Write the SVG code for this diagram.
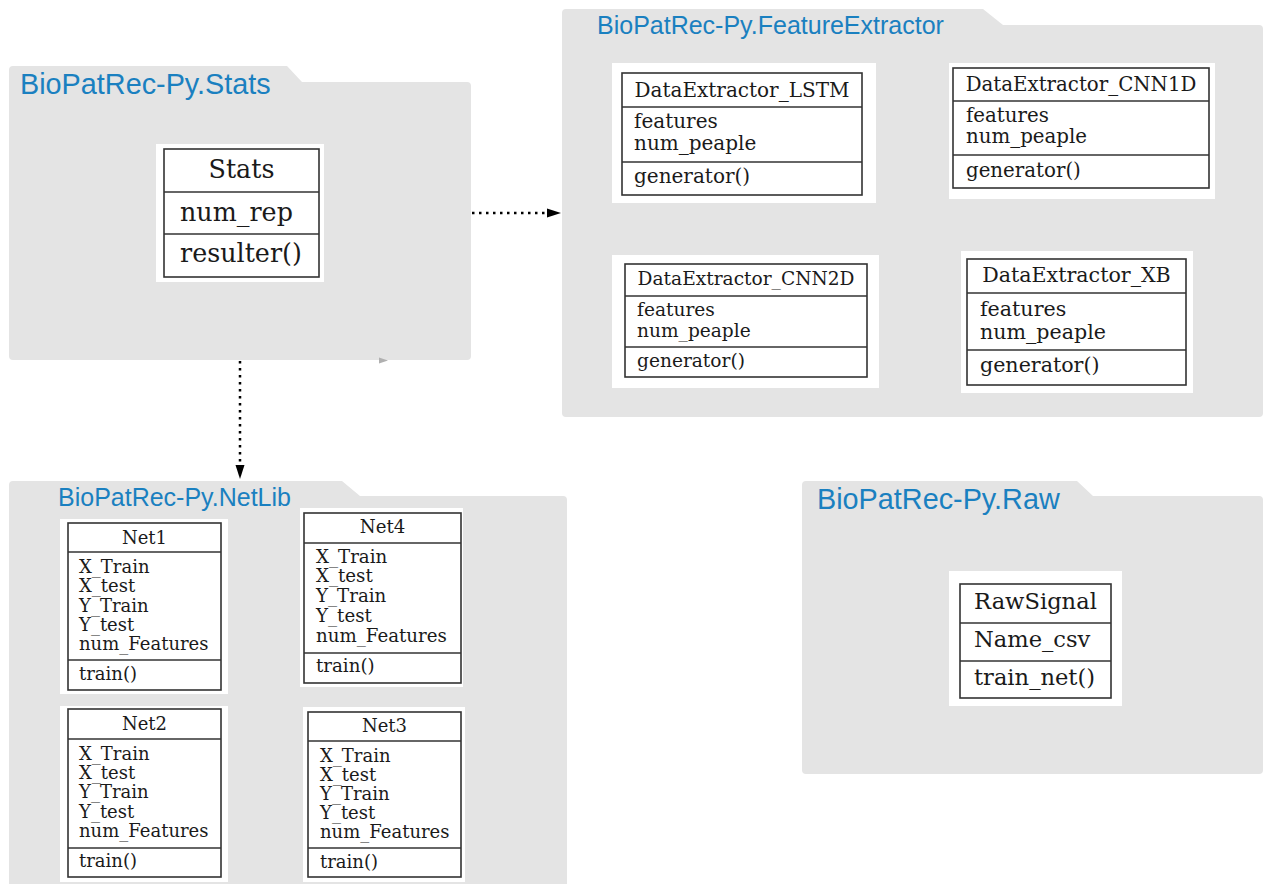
<svg xmlns="http://www.w3.org/2000/svg" width="1267" height="884" viewBox="0 0 1267 884">
<style>
.pkg{fill:#e4e4e4;stroke:none}
.ptitle{font-family:"Liberation Sans",Arial,sans-serif;fill:#1a80c0}
.bg{fill:#ffffff}
.tbl{fill:#ffffff;stroke:#333333;stroke-width:1.6}
.div{stroke:#333333;stroke-width:1.6}
.t{font-family:"DejaVu Serif",serif;fill:#1a1a1a}
.dot{fill:none;stroke:#000;stroke-width:2.5;stroke-dasharray:2.5 4.5}
</style>
<defs>
<marker id="arr" markerWidth="10" markerHeight="10" refX="0" refY="5" orient="auto" markerUnits="userSpaceOnUse">
<path d="M0,0.5 L14,5 L0,9.5 Z" fill="#000"/>
</marker>
</defs>

<g id="pkg-stats">
<path class="pkg" d="M9,70 Q9,66 13,66 L287,66 L302,82 L467,82 Q471,82 471,86 L471,356 Q471,360 467,360 L13,360 Q9,360 9,356 Z"/>
<text class="ptitle" x="20" y="94" font-size="28.8">BioPatRec-Py.Stats</text>
</g>

<g id="pkg-fe">
<path class="pkg" d="M562,13 Q562,9 566,9 L983,9 L1003,25 L1259,25 Q1263,25 1263,29 L1263,413 Q1263,417 1259,417 L566,417 Q562,417 562,413 Z"/>
<text class="ptitle" x="597" y="34" font-size="25">BioPatRec-Py.FeatureExtractor</text>
</g>

<g id="pkg-netlib">
<path class="pkg" d="M9,485 Q9,481 13,481 L342,481 L360,496 L563,496 Q567,496 567,500 L567,900 L9,900 Z"/>
<text class="ptitle" x="58" y="506" font-size="25">BioPatRec-Py.NetLib</text>
</g>

<g id="pkg-raw">
<path class="pkg" d="M802,485 Q802,481 806,481 L1077,481 L1093,496 L1259,496 Q1263,496 1263,500 L1263,770 Q1263,774 1259,774 L806,774 Q802,774 802,770 Z"/>
<text class="ptitle" x="817" y="509" font-size="28.8">BioPatRec-Py.Raw</text>
</g>

<g id="node-stats">
<rect class="bg" x="156" y="144" width="168" height="138"/>
<rect class="tbl" x="164" y="149" width="155" height="128" stroke-width="2.2"/>
<line class="div" x1="164" y1="192" x2="319" y2="192" stroke-width="2.2"/>
<line class="div" x1="164" y1="234" x2="319" y2="234" stroke-width="2.2"/>
<text class="t" x="241.5" y="178" font-size="25.4" text-anchor="middle">Stats</text>
<text class="t" x="180" y="221" font-size="25.4">num_rep</text>
<text class="t" x="180" y="262" font-size="25.4">resulter()</text>
</g>

<g id="node-lstm">
<rect class="bg" x="612" y="63" width="264" height="140"/>
<rect class="tbl" x="622" y="73" width="240" height="122"/>
<line class="div" x1="622" y1="107" x2="862" y2="107"/>
<line class="div" x1="622" y1="162" x2="862" y2="162"/>
<text class="t" x="742" y="97" font-size="20" text-anchor="middle">DataExtractor_LSTM</text>
<text class="t" x="634" y="128" font-size="20">features</text>
<text class="t" x="634" y="150" font-size="20">num_peaple</text>
<text class="t" x="634" y="183" font-size="20">generator()</text>
</g>

<g id="node-cnn1d">
<rect class="bg" x="949" y="63" width="266" height="136"/>
<rect class="tbl" x="953" y="68" width="256" height="120"/>
<line class="div" x1="953" y1="101" x2="1209" y2="101"/>
<line class="div" x1="953" y1="155" x2="1209" y2="155"/>
<text class="t" x="1081" y="91" font-size="19.8" text-anchor="middle">DataExtractor_CNN1D</text>
<text class="t" x="966" y="122" font-size="19.8">features</text>
<text class="t" x="966" y="143" font-size="19.8">num_peaple</text>
<text class="t" x="966" y="177" font-size="19.8">generator()</text>
</g>

<g id="node-cnn2d">
<rect class="bg" x="612" y="255" width="267" height="133"/>
<rect class="tbl" x="625" y="264" width="242" height="113"/>
<line class="div" x1="625" y1="296" x2="867" y2="296"/>
<line class="div" x1="625" y1="347" x2="867" y2="347"/>
<text class="t" x="746" y="285" font-size="18.6" text-anchor="middle">DataExtractor_CNN2D</text>
<text class="t" x="637" y="316" font-size="18.6">features</text>
<text class="t" x="637" y="337" font-size="18.6">num_peaple</text>
<text class="t" x="637" y="367" font-size="18.6">generator()</text>
</g>

<g id="node-xb">
<rect class="bg" x="961" y="251" width="232" height="142"/>
<rect class="tbl" x="967" y="259" width="219" height="126"/>
<line class="div" x1="967" y1="293" x2="1186" y2="293"/>
<line class="div" x1="967" y1="350" x2="1186" y2="350"/>
<text class="t" x="1076.5" y="282" font-size="20.6" text-anchor="middle">DataExtractor_XB</text>
<text class="t" x="980" y="316" font-size="20.6">features</text>
<text class="t" x="980" y="339" font-size="20.6">num_peaple</text>
<text class="t" x="980" y="372" font-size="20.6">generator()</text>
</g>

<g id="node-rawsignal">
<rect class="bg" x="949" y="571" width="173" height="135"/>
<rect class="tbl" x="960" y="584" width="151" height="114" stroke-width="2"/>
<line class="div" x1="960" y1="623" x2="1111" y2="623" stroke-width="2"/>
<line class="div" x1="960" y1="661" x2="1111" y2="661" stroke-width="2"/>
<text class="t" x="1035.5" y="609" font-size="22.6" text-anchor="middle">RawSignal</text>
<text class="t" x="974" y="647" font-size="22.6">Name_csv</text>
<text class="t" x="974" y="685" font-size="22.6">train_net()</text>
</g>

<g id="node-net1">
<rect class="bg" x="60" y="519" width="168" height="175"/>
<rect class="tbl" x="68" y="523" width="153" height="167"/>
<line class="div" x1="68" y1="552" x2="221" y2="552"/>
<line class="div" x1="68" y1="660" x2="221" y2="660"/>
<text class="t" x="144.5" y="544" font-size="18" text-anchor="middle">Net1</text>
<text class="t" x="79" y="573" font-size="18">X_Train</text>
<text class="t" x="79" y="592" font-size="18">X_test</text>
<text class="t" x="79" y="612" font-size="18">Y_Train</text>
<text class="t" x="79" y="631" font-size="18">Y_test</text>
<text class="t" x="79" y="650" font-size="18">num_Features</text>
<text class="t" x="79" y="680" font-size="18">train()</text>
</g>

<g id="node-net2">
<rect class="bg" x="60" y="706" width="168" height="176"/>
<rect class="tbl" x="68" y="709" width="153" height="168"/>
<line class="div" x1="68" y1="739" x2="221" y2="739"/>
<line class="div" x1="68" y1="848" x2="221" y2="848"/>
<text class="t" x="144.5" y="730" font-size="18" text-anchor="middle">Net2</text>
<text class="t" x="79" y="760" font-size="18">X_Train</text>
<text class="t" x="79" y="779" font-size="18">X_test</text>
<text class="t" x="79" y="798" font-size="18">Y_Train</text>
<text class="t" x="79" y="818" font-size="18">Y_test</text>
<text class="t" x="79" y="837" font-size="18">num_Features</text>
<text class="t" x="79" y="867" font-size="18">train()</text>
</g>

<g id="node-net4">
<rect class="bg" x="300" y="508" width="163" height="179"/>
<rect class="tbl" x="304" y="513" width="157" height="170"/>
<line class="div" x1="304" y1="543" x2="461" y2="543"/>
<line class="div" x1="304" y1="653" x2="461" y2="653"/>
<text class="t" x="382.5" y="533" font-size="18.2" text-anchor="middle">Net4</text>
<text class="t" x="316" y="563" font-size="18.2">X_Train</text>
<text class="t" x="316" y="582" font-size="18.2">X_test</text>
<text class="t" x="316" y="602" font-size="18.2">Y_Train</text>
<text class="t" x="316" y="622" font-size="18.2">Y_test</text>
<text class="t" x="316" y="642" font-size="18.2">num_Features</text>
<text class="t" x="316" y="672" font-size="18.2">train()</text>
</g>

<g id="node-net3">
<rect class="bg" x="303" y="707" width="162" height="175"/>
<rect class="tbl" x="308" y="712" width="153" height="165"/>
<line class="div" x1="308" y1="741" x2="461" y2="741"/>
<line class="div" x1="308" y1="848" x2="461" y2="848"/>
<text class="t" x="384.5" y="732" font-size="18" text-anchor="middle">Net3</text>
<text class="t" x="320" y="762" font-size="18">X_Train</text>
<text class="t" x="320" y="781" font-size="18">X_test</text>
<text class="t" x="320" y="800" font-size="18">Y_Train</text>
<text class="t" x="320" y="819" font-size="18">Y_test</text>
<text class="t" x="320" y="838" font-size="18">num_Features</text>
<text class="t" x="320" y="868" font-size="18">train()</text>
</g>

<g id="connectors">
<line class="dot" x1="472" y1="213" x2="547" y2="213"/>
<path d="M547,208.5 L561,213 L547,217.5 Z" fill="#000"/>
<line class="dot" x1="240" y1="361" x2="240" y2="465"/>
<path d="M235.5,465 L240,479 L244.5,465 Z" fill="#000"/>
<path d="M379,357.5 L388,360.5 L379,363.5 Z" fill="#b0b0b0"/>
</g>
</svg>
